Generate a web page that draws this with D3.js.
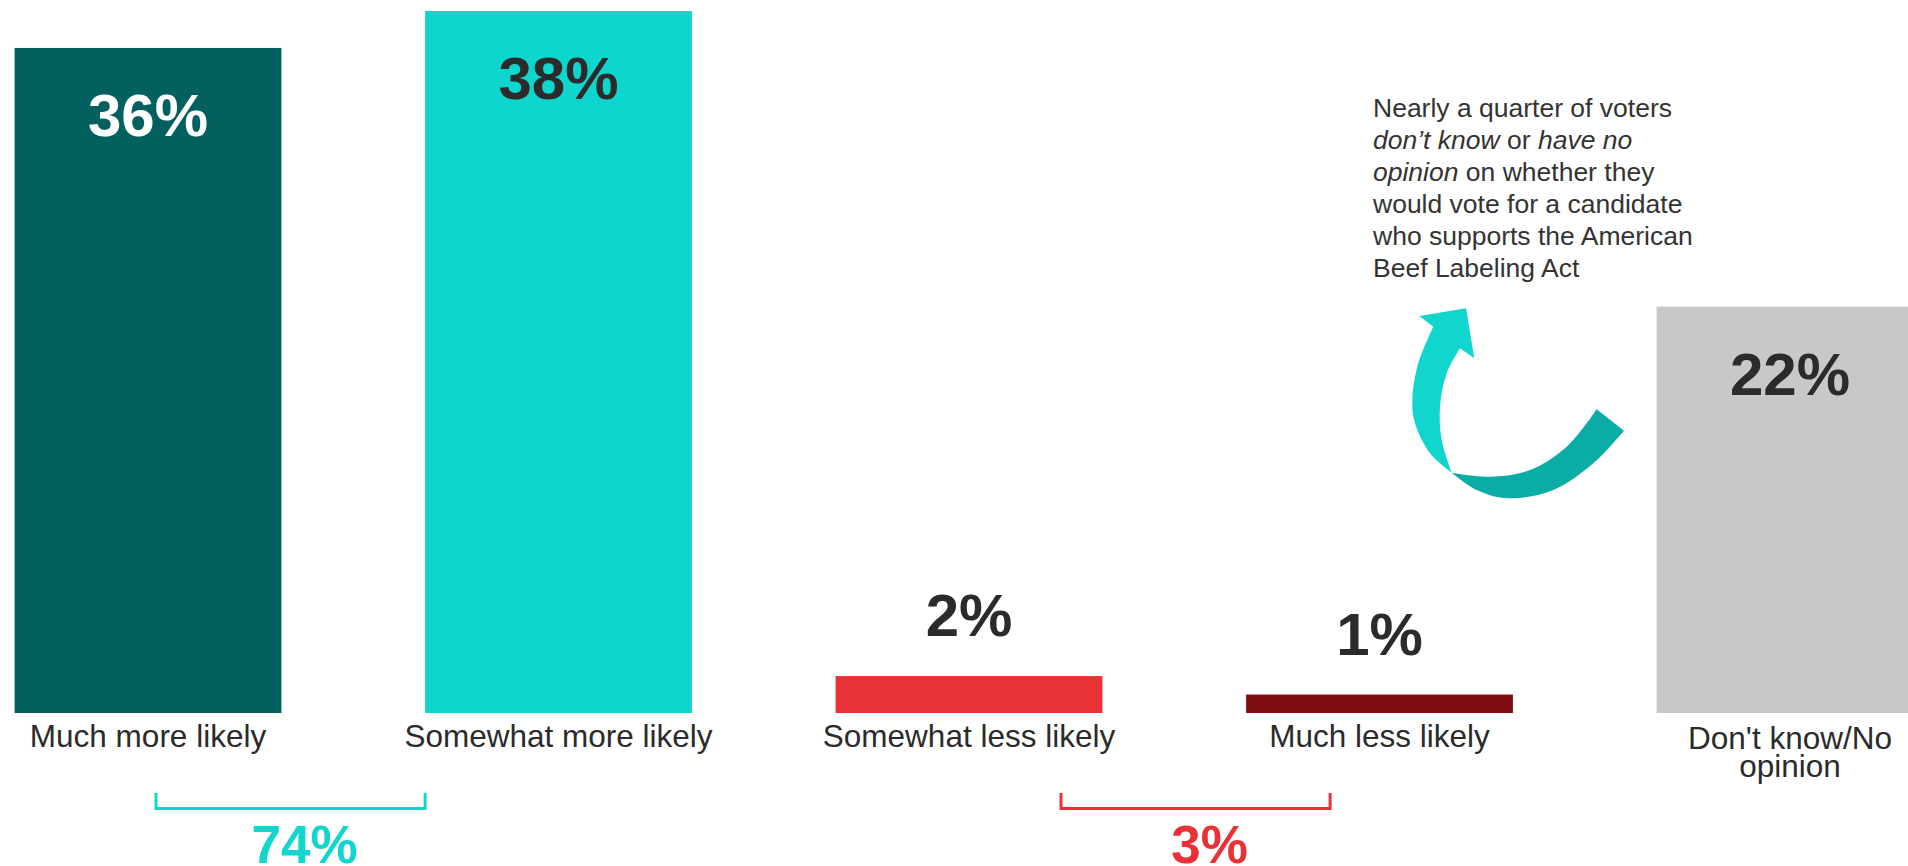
<!DOCTYPE html>
<html>
<head>
<meta charset="utf-8">
<script src="https://cdn.jsdelivr.net/npm/d3@7"></script>
<style>
  html, body { margin: 0; padding: 0; background: #fff; overflow: hidden; }
  svg { display: block; font-family: "Liberation Sans", Arial, Helvetica, sans-serif; }
</style>
</head>
<body>
<div id="chart"></div>
<script>
const width = 1908;
const height = 866;

// data
const categories = ["Much more likely", "Somewhat more likely", "Somewhat less likely", "Much less likely", "Don't know/No opinion"];
const values = [36, 38, 2, 1, 22];
const groupMembers = [[0, 1], [2, 3]];
const groupTotals = [74, 3];

const noteLines = [
	[["Nearly a quarter of voters", false]],
	[["don\u2019t know", true], [" or ", false], ["have no", true]],
	[["opinion", true], [" on whether they", false]],
	[["would vote for a candidate", false]],
	[["who supports the American", false]],
	[["Beef Labeling Act", false]]
];

const barColor = d3.scaleOrdinal()
	.domain(categories)
	.range(["#02605e", "#0fd6cd", "#e83238", "#7f0d12", "#c8c8c8"]);
const labelColor = ["#ffffff", "#2b2b2b", "#2b2b2b", "#2b2b2b", "#2b2b2b"];
const groupColor = ["#11d6cd", "#e83238"];

const svg = d3.select("#chart")
	.append("svg")
	.attr("width", width)
	.attr("height", height);

// band step ~410px, bars ~267px wide, the last one runs off the right edge
const step = 410.5;
const x = d3.scaleBand()
	.domain(categories)
	.range([14.6, 14.6 + step * 4.65])
	.paddingInner(0.35)
	.paddingOuter(0);

const y = d3.scaleLinear()
	.domain([0, 38])
	.range([713, 11]);

// bars
svg.append("g")
	.selectAll("rect")
	.data(values)
	.enter()
	.append("rect")
	.attr("x", (d, i) => x(categories[i]))
	.attr("y", d => y(d))
	.attr("width", x.bandwidth())
	.attr("height", d => y(0) - y(d))
	.attr("fill", (d, i) => barColor(categories[i]));

// value labels: inside the tall bars, above the short ones
svg.append("g")
	.selectAll("text")
	.data(values)
	.enter()
	.append("text")
	.attr("x", (d, i) => x(categories[i]) + x.bandwidth() / 2)
	.attr("y", d => d > 5 ? y(d) + 88 : y(d) - 40)
	.attr("text-anchor", "middle")
	.attr("font-size", 60)
	.attr("font-weight", "bold")
	.attr("fill", (d, i) => labelColor[i])
	.text(d => d + "%");

// category labels, wrapped only when they would run off the page
const catFont = 31.5;
const catG = svg.append("g");
categories.forEach((c, i) => {
	const cx = x(c) + x.bandwidth() / 2;
	const t = catG.append("text")
		.attr("x", cx)
		.attr("y", 747)
		.attr("text-anchor", "middle")
		.attr("font-size", catFont)
		.attr("fill", "#2b2b2b")
		.text(c);
	const w = t.node().getComputedTextLength();
	if (cx + w / 2 > width - 10) {
		t.text(null).attr("y", 749);
		const words = c.split(" ");
		t.append("tspan").attr("x", cx).text(words.slice(0, 2).join(" "));
		t.append("tspan").attr("x", cx).attr("dy", 28).text(words.slice(2).join(" "));
	}
});

// brackets with the combined totals
const bracketSpans = [
	[x(categories[0]) + x.bandwidth() / 2 + 8, x(categories[1])],
	[x(categories[2]) + x.bandwidth() / 2 + 92, x(categories[3]) + 84]
];
groupMembers.forEach((g, i) => {
	const [x0, x1] = bracketSpans[i];
	svg.append("path")
		.attr("d", `M${x0},793 V808.5 H${x1} V793`)
		.attr("fill", "none")
		.attr("stroke", groupColor[i])
		.attr("stroke-width", 3);
	svg.append("text")
		.attr("x", i === 0 ? (x0 + x1) / 2 + 14 : (x0 + x1) / 2 + 14)
		.attr("y", 863)
		.attr("text-anchor", "middle")
		.attr("font-size", 53)
		.attr("font-weight", "bold")
		.attr("fill", groupColor[i])
		.text(groupTotals[i] + "%");
});

// annotation text
const note = svg.append("text")
	.attr("x", 1373)
	.attr("y", 117)
	.attr("font-size", 26.5)
	.attr("fill", "#333333");
noteLines.forEach((line, li) => {
	line.forEach((seg, si) => {
		const ts = note.append("tspan")
			.attr("font-style", seg[1] ? "italic" : "normal")
			.text(seg[0]);
		if (si === 0) ts.attr("x", 1373).attr("dy", li === 0 ? 0 : 32);
	});
});

// curved arrow pointing from the last bar up to the note
const smooth = d3.line().curve(d3.curveCatmullRom.alpha(0.5));
const join = pts => smooth(pts).replace(/^M/, "L");

const darkTop = [[1451.7, 472.7], [1490, 476.7], [1530, 470], [1566.7, 446.7], [1596.7, 409.3]];
const darkBottom = [[1624, 430.7], [1593.3, 463.3], [1553.3, 490], [1508.3, 498.3], [1476.7, 490], [1451.7, 472.7]];
svg.append("path")
	.attr("d", smooth(darkTop) + join(darkBottom) + "Z")
	.attr("fill", "#0aada5");

const lightOuter = [[1451.7, 472.7], [1430, 453.3], [1415, 423.3], [1412.3, 400], [1418.3, 363.3], [1433.3, 326.7]];
const arrowHead = [[1419.3, 316], [1466, 308.3], [1474.3, 358.3], [1460, 348.3]];
const lightInner = [[1460, 348.3], [1446.7, 373.3], [1440, 406.7], [1441.7, 440], [1451.7, 472.7]];
svg.append("path")
	.attr("d", smooth(lightOuter) + arrowHead.map(p => "L" + p.join(",")).join("") + join(lightInner) + "Z")
	.attr("fill", "#11d6cd");
</script>
</body>
</html>
